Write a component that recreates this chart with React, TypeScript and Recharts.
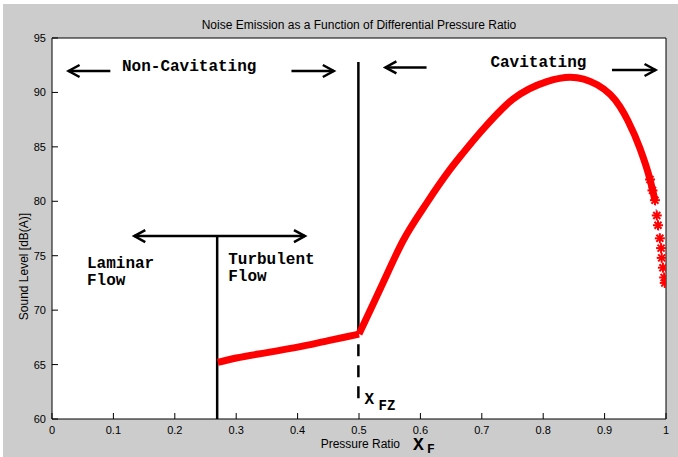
import React from "react";
import {
  ComposedChart,
  Line,
  Scatter,
  XAxis,
  YAxis,
  CartesianGrid,
  ReferenceDot,
} from "recharts";

// ticks
const xTicks = [0, 0.1, 0.2, 0.3, 0.4, 0.5, 0.6, 0.7, 0.8, 0.9, 1];
const yTicks = [60, 65, 70, 75, 80, 85, 90, 95];

// turbulent (non-cavitating) branch
const turbX = [0.27, 0.3, 0.35, 0.4, 0.45, 0.5];
const turbY = [65.2, 65.6, 66.1, 66.6, 67.2, 67.8];

// cavitating branch
const cavX = [0.5, 0.52, 0.539, 0.572, 0.611, 0.648, 0.669, 0.697, 0.751, 0.806, 0.844, 0.888, 0.925, 0.938, 0.958, 0.974, 0.982];
const cavY = [67.8, 70.2, 72.5, 76.4, 79.9, 82.9, 84.4, 86.3, 89.4, 91.0, 91.4, 90.7, 88.7, 87.4, 84.8, 82.0, 80.1];

// sparse star markers at the end of the curve
const tailX = [0.974, 0.978, 0.982, 0.985, 0.987, 0.99, 0.992, 0.993, 0.995, 0.997, 0.998];
const tailY = [82.0, 81.0, 80.1, 78.7, 77.8, 76.6, 75.7, 74.8, 73.9, 73.0, 72.5];

const toPts = (xs: number[], ys: number[]) => xs.map((x, i) => ({ x, y: ys[i] }));

const turbData = toPts(turbX, turbY);
const cavData = toPts(cavX, cavY);
const tailData = toPts(tailX, tailY);

// annotation lines
const turbStart = toPts([0.269, 0.269], [60, 76.8]);
const flowArrow = toPts([0.134, 0.412], [76.8, 76.8]);
const fzLine = toPts([0.499, 0.499], [67.9, 92.8]);
const fzDash = toPts([0.499, 0.499], [61.9, 67.6]);
const nonCavLeft = toPts([0.027, 0.095], [91.97, 91.97]);
const nonCavRight = toPts([0.39, 0.459], [91.97, 91.97]);
const cavLeft = toPts([0.543, 0.61], [92.3, 92.3]);
const cavRight = toPts([0.912, 0.983], [92.06, 92.06]);

const MONO = "'Liberation Mono', 'DejaVu Sans Mono', monospace";
const SANS = "'Liberation Sans', Arial, sans-serif";

const headDot = (ends: number[]) => (p: any) => {
  const { cx, cy, index } = p;
  if (!ends.includes(index)) return <g key={`h${index}`} />;
  const dir = index === 0 ? -1 : 1;
  return (
    <path
      key={`h${index}`}
      d={`M${cx - dir * 11},${cy - 6} L${cx},${cy} L${cx - dir * 11},${cy + 6}`}
      stroke="#000"
      strokeWidth={2.5}
      fill="none"
    />
  );
};

const Asterisk = (p: any) => {
  const { cx, cy } = p;
  const r = 5;
  const d = r * 0.7;
  return (
    <g stroke="#ff0000" strokeWidth={2}>
      <line x1={cx - r} y1={cy} x2={cx + r} y2={cy} />
      <line x1={cx} y1={cy - r} x2={cx} y2={cy + r} />
      <line x1={cx - d} y1={cy - d} x2={cx + d} y2={cy + d} />
      <line x1={cx - d} y1={cy + d} x2={cx + d} y2={cy - d} />
    </g>
  );
};

const monoText = (lines: string[], dy = 17) => (p: any) => (
  <text x={p.cx} y={p.cy} fontFamily={MONO} fontWeight="bold" fontSize={16} fill="#000">
    {lines.map((s, i) => (
      <tspan key={i} x={p.cx} dy={i === 0 ? 0 : dy}>
        {s}
      </tspan>
    ))}
  </text>
);

const fmt = (v: number) => String(v);

const BottomTick = (p: any) => {
  const { x, y, payload } = p;
  return (
    <g>
      <line x1={x} y1={y} x2={x} y2={y - 6} stroke="#000" />
      <text x={x} y={y + 15} textAnchor="middle" fontFamily={SANS} fontSize={11} fill="#000">
        {fmt(payload.value)}
      </text>
    </g>
  );
};

const TopTick = (p: any) => {
  const { x, y } = p;
  return <line x1={x} y1={y} x2={x} y2={y + 6} stroke="#000" />;
};

const LeftTick = (p: any) => {
  const { x, y, payload } = p;
  return (
    <g>
      <line x1={x} y1={y} x2={x + 6} y2={y} stroke="#000" />
      <text x={x - 6} y={y + 4} textAnchor="end" fontFamily={SANS} fontSize={11} fill="#000">
        {fmt(payload.value)}
      </text>
    </g>
  );
};

const RightTick = (p: any) => {
  const { x, y } = p;
  return <line x1={x} y1={y} x2={x - 6} y2={y} stroke="#000" />;
};

const TitleLabel = (p: any) => {
  const vb = p.viewBox || {};
  return (
    <text x={vb.x + vb.width / 2} y={vb.y + 29} textAnchor="middle" fontFamily={SANS} fontSize={12} fill="#000">
      Noise Emission as a Function of Differential Pressure Ratio
    </text>
  );
};

const XLabel = (p: any) => {
  const vb = p.viewBox || {};
  const cx = vb.x + vb.width / 2;
  return (
    <g>
      <text x={cx + 41} y={vb.y + 29} textAnchor="end" fontFamily={SANS} fontSize={12} fill="#000">
        Pressure Ratio
      </text>
      <text x={cx + 54} y={vb.y + 31} fontFamily={MONO} fontWeight="bold" fontSize={18} fill="#000">
        X
      </text>
      <text x={cx + 68} y={vb.y + 34} fontFamily={MONO} fontWeight="bold" fontSize={13} fill="#000">
        F
      </text>
    </g>
  );
};

const YLabel = (p: any) => {
  const vb = p.viewBox || {};
  const cy = vb.y + vb.height / 2 + 38;
  return (
    <text
      x={25}
      y={cy}
      transform={`rotate(-90 25 ${cy})`}
      textAnchor="middle"
      dominantBaseline="middle"
      fontFamily={SANS}
      fontSize={12}
      fill="#000"
    >
      Sound Level [dB(A)]
    </text>
  );
};

export default function App() {
  return (
    <div style={{ position: "absolute", left: 0, top: 0, width: 678, height: 457, background: "#fff" }}>
      <div style={{ position: "absolute", left: 3, top: 4, right: 0, bottom: 0, background: "#cccccc" }} />
      <div style={{ position: "absolute", left: 0, top: 0 }}>
        <ComposedChart width={678} height={457} margin={{ top: 0, right: 0, bottom: 0, left: 0 }}>
          <CartesianGrid fill="#fff" horizontal={false} vertical={false} />
          <XAxis
            dataKey="x"
            type="number"
            domain={[0, 1]}
            ticks={xTicks}
            height={38}
            tickSize={0}
            tickMargin={0}
            tickLine={false}
            tick={<BottomTick />}
            axisLine={{ stroke: "#000" }}
            interval={0}
            allowDataOverflow
            label={{ content: <XLabel /> }}
          />
          <XAxis
            xAxisId="top"
            orientation="top"
            dataKey="x"
            type="number"
            domain={[0, 1]}
            ticks={xTicks}
            height={38}
            tickSize={0}
            tickMargin={0}
            tickLine={false}
            tick={<TopTick />}
            axisLine={{ stroke: "#000" }}
            interval={0}
            label={{ content: <TitleLabel /> }}
          />
          <YAxis
            type="number"
            domain={[60, 95]}
            ticks={yTicks}
            width={52}
            tickSize={0}
            tickMargin={0}
            tickLine={false}
            tick={<LeftTick />}
            axisLine={{ stroke: "#000" }}
            interval={0}
            allowDataOverflow
            label={{ content: <YLabel /> }}
          />
          <YAxis
            yAxisId="right"
            orientation="right"
            type="number"
            domain={[60, 95]}
            ticks={yTicks}
            width={12}
            tickSize={0}
            tickMargin={0}
            tickLine={false}
            tick={<RightTick />}
            axisLine={{ stroke: "#000" }}
            interval={0}
          />

          <Line data={turbStart} dataKey="y" stroke="#000" strokeWidth={2.5} dot={false} activeDot={false} isAnimationActive={false} />
          <Line data={flowArrow} dataKey="y" stroke="#000" strokeWidth={2.5} dot={headDot([0, 1])} activeDot={false} isAnimationActive={false} />
          <Line data={fzLine} dataKey="y" stroke="#000" strokeWidth={2.5} dot={false} activeDot={false} isAnimationActive={false} />
          <Line data={fzDash} dataKey="y" stroke="#000" strokeWidth={2.5} strokeDasharray="12 9" dot={false} activeDot={false} isAnimationActive={false} />
          <Line data={nonCavLeft} dataKey="y" stroke="#000" strokeWidth={2.5} dot={headDot([0])} activeDot={false} isAnimationActive={false} />
          <Line data={nonCavRight} dataKey="y" stroke="#000" strokeWidth={2.5} dot={headDot([1])} activeDot={false} isAnimationActive={false} />
          <Line data={cavLeft} dataKey="y" stroke="#000" strokeWidth={2.5} dot={headDot([0])} activeDot={false} isAnimationActive={false} />
          <Line data={cavRight} dataKey="y" stroke="#000" strokeWidth={2.5} dot={headDot([1])} activeDot={false} isAnimationActive={false} />

          <Line data={turbData} dataKey="y" type="monotone" stroke="#ff0000" strokeWidth={7} dot={false} activeDot={false} isAnimationActive={false} />
          <Line data={tailData} dataKey="y" type="monotone" stroke="#6f7fff" strokeWidth={1} strokeDasharray="2 3" dot={false} activeDot={false} isAnimationActive={false} />
          <Line data={cavData} dataKey="y" type="monotone" stroke="#ff0000" strokeWidth={7} dot={false} activeDot={false} isAnimationActive={false} />
          <Scatter data={tailData} dataKey="y" shape={<Asterisk />} isAnimationActive={false} />

          <ReferenceDot x={0.114} y={92.0} r={0} shape={monoText(["Non-Cavitating"])} ifOverflow="visible" />
          <ReferenceDot x={0.714} y={92.3} r={0} shape={monoText(["Cavitating"])} ifOverflow="visible" />
          <ReferenceDot x={0.057} y={73.9} r={0} shape={monoText(["Laminar", "Flow"])} ifOverflow="visible" />
          <ReferenceDot x={0.287} y={74.2} r={0} shape={monoText(["Turbulent", "Flow"])} ifOverflow="visible" />
          <ReferenceDot
            x={0.509}
            y={61.4}
            r={0}
            ifOverflow="visible"
            shape={(p: any) => (
              <g fontFamily={MONO} fontWeight="bold" fill="#000">
                <text x={p.cx} y={p.cy} fontSize={16}>X</text>
                <text x={p.cx + 14} y={p.cy + 6} fontSize={14}>FZ</text>
              </g>
            )}
          />
        </ComposedChart>
      </div>
    </div>
  );
}
